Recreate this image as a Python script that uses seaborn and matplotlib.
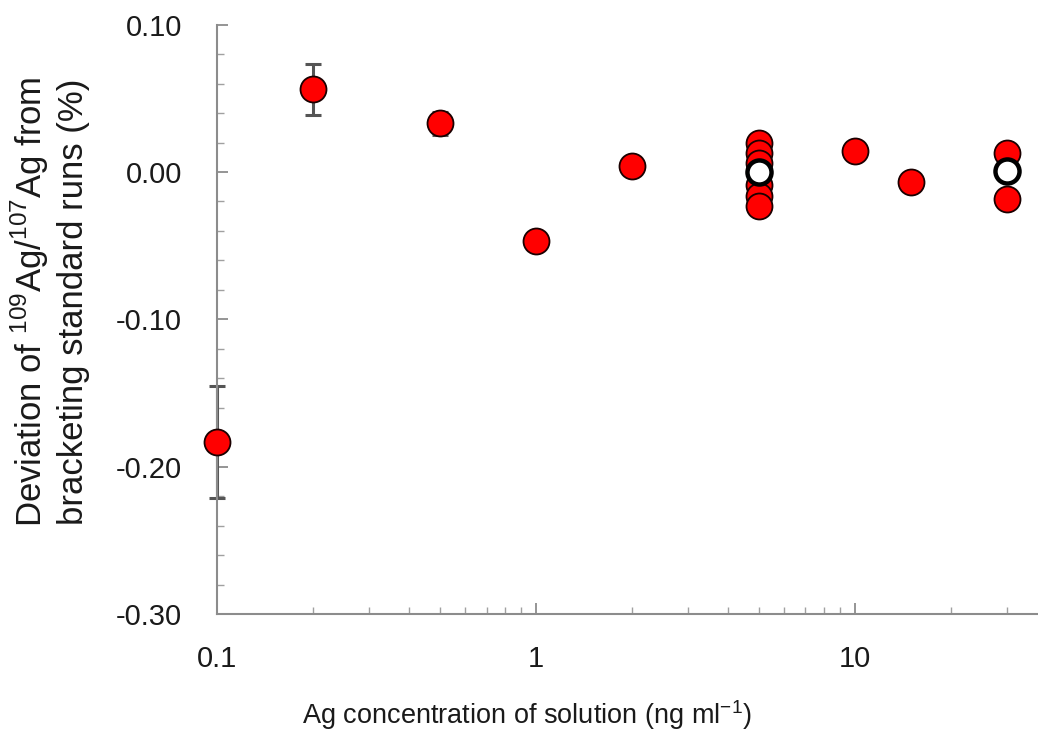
import numpy as np
import pandas as pd
import seaborn as sns
import matplotlib.pyplot as plt
from matplotlib.ticker import LogLocator, MultipleLocator, FixedLocator, NullFormatter

# measured points (red)
conc = [0.1, 0.2, 0.5, 1, 2, 5, 5, 5, 5, 5, 5, 10, 15, 30, 30]
dev = [-0.183, 0.056, 0.033, -0.047, 0.004, 0.020, 0.013, 0.006, -0.009, -0.016, -0.023,
       0.014, -0.007, 0.013, -0.018]
# error bars on the low-concentration points
err_conc = [0.1, 0.2, 0.5]
err_dev = [-0.183, 0.056, 0.033]
err_size = [0.038, 0.017, 0.008]
# mean values (open circles)
mean_conc = [5, 30]
mean_dev = [0.000, 0.001]

sns.set_style("white")
plt.rcParams['font.family'] = ['Liberation Sans', 'DejaVu Sans']
plt.rcParams['mathtext.fontset'] = 'custom'
plt.rcParams['mathtext.rm'] = 'Liberation Sans'

df = pd.DataFrame({'conc': conc, 'dev': dev})
df_mean = pd.DataFrame({'conc': mean_conc, 'dev': mean_dev})

fig = plt.figure(figsize=(10.38, 7.47), dpi=100)
ax = fig.add_axes([0.209, 0.178, 0.791, 0.789])

ax.errorbar(err_conc, err_dev, yerr=err_size, fmt='none', ecolor='#555555',
            elinewidth=2.2, capsize=6, capthick=2.2, zorder=2, clip_on=False)
sns.scatterplot(x='conc', y='dev', data=df, ax=ax, color='#ff0000', s=350,
                edgecolor='#1a0000', linewidth=1.3, zorder=3, clip_on=False)
sns.scatterplot(x='conc', y='dev', data=df_mean, ax=ax, color='white', s=300,
                edgecolor='black', linewidth=3.2, zorder=4, clip_on=False)

ax.set_xscale('log')
ax.set_xlim(0.1, 37.5)
ax.set_ylim(-0.30, 0.10)
ax.xaxis.set_major_locator(FixedLocator([0.1, 1, 10]))
ax.xaxis.set_minor_locator(LogLocator(base=10, subs=np.arange(2, 10)))
ax.xaxis.set_minor_formatter(NullFormatter())
ax.set_xticklabels(['0.1', '1', '10'])
ax.yaxis.set_major_locator(MultipleLocator(0.10))
ax.yaxis.set_minor_locator(MultipleLocator(0.02))
ax.yaxis.set_major_formatter(plt.FuncFormatter(lambda v, p: '%.2f' % v))

for side in ['top', 'right']:
    ax.spines[side].set_visible(False)
for side in ['left', 'bottom']:
    ax.spines[side].set_color('#8c8c8c')
    ax.spines[side].set_linewidth(1.5)

ax.tick_params(axis='both', which='major', direction='in', length=8, width=1.3,
               color='#8c8c8c', labelsize=21, labelcolor='#1a1a1a')
ax.tick_params(axis='both', which='minor', direction='in', length=5, width=1.0,
               color='#a0a0a0')
ax.tick_params(axis='y', which='both', left=True, pad=25)
ax.tick_params(axis='x', which='both', bottom=True, pad=22)

ax.set_xlabel('Ag concentration of solution (ng ml$^{-1}$)', fontsize=19.5,
              color='#1a1a1a')
ax.xaxis.set_label_coords(0.378, -0.143)
ax.set_ylabel('Deviation of $^{109}$Ag/$^{107}$Ag from\nbracketing standard runs (%)',
              fontsize=25, color='#1a1a1a', linespacing=1.2)
ax.yaxis.set_label_coords(-0.155, 0.53)

fig.savefig('out.png', dpi=100)
